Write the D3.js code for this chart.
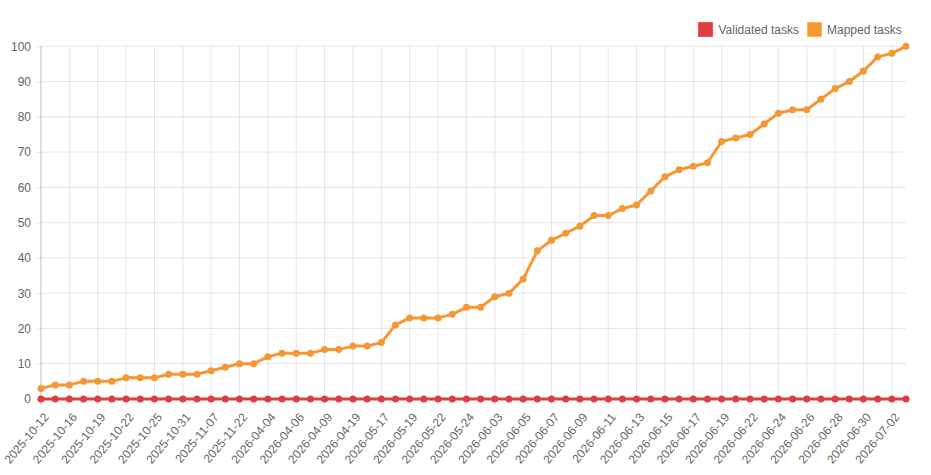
<!DOCTYPE html>
<html>
<head>
<meta charset="utf-8">
<script src="https://cdn.jsdelivr.net/npm/d3@7"></script>
<style>
  html, body { margin: 0; padding: 0; background: #fff; }
  svg { display: block; font-family: "Liberation Sans", Arial, Helvetica, sans-serif; }
</style>
</head>
<body>
<svg id="chart" width="931" height="475"></svg>
<script>
const dates = [
  "2025-10-12","2025-10-14","2025-10-16","2025-10-17","2025-10-19","2025-10-20",
  "2025-10-22","2025-10-23","2025-10-25","2025-10-28","2025-10-31","2025-11-03",
  "2025-11-07","2025-11-15","2025-11-22","2026-02-14","2026-04-04","2026-04-05",
  "2026-04-06","2026-04-08","2026-04-09","2026-04-14","2026-04-19","2026-05-02",
  "2026-05-17","2026-05-18","2026-05-19","2026-05-20","2026-05-22","2026-05-23",
  "2026-05-24","2026-05-28","2026-06-03","2026-06-04","2026-06-05","2026-06-06",
  "2026-06-07","2026-06-08","2026-06-09","2026-06-10","2026-06-11","2026-06-12",
  "2026-06-13","2026-06-14","2026-06-15","2026-06-16","2026-06-17","2026-06-18",
  "2026-06-19","2026-06-20","2026-06-22","2026-06-23","2026-06-24","2026-06-25",
  "2026-06-26","2026-06-27","2026-06-28","2026-06-29","2026-06-30","2026-07-01",
  "2026-07-02","2026-07-03"
];
const validatedTasks = [
  0,0,0,0,0,0,0,0,0,0,0,0,0,0,0,0,0,0,0,0,0,0,0,0,0,0,0,0,0,0,0,
  0,0,0,0,0,0,0,0,0,0,0,0,0,0,0,0,0,0,0,0,0,0,0,0,0,0,0,0,0,0,0
];
const mappedTasks = [
  3,4,4,5,5,5,6,6,6,7,7,7,8,9,10,10,12,13,13,13,14,14,15,15,16,21,23,23,23,24,26,
  26,29,30,34,42,45,47,49,52,52,54,55,59,63,65,66,67,73,74,75,78,81,82,82,85,88,90,93,97,98,100
];
const yTicks = [0,10,20,30,40,50,60,70,80,90,100];
const seriesNames = ["Validated tasks", "Mapped tasks"];
const seriesColors = ["#dc3f42", "#f39835"];

const svg = d3.select("#chart");
const pLeft = 41, pRight = 906, pTop = 46.3, pBottom = 399;

const x = d3.scalePoint().domain(dates).range([pLeft, pRight]);
const y = d3.scaleLinear().domain([0, 100]).range([pBottom, pTop]);

const gridColor = "rgba(0,0,0,0.1)";
const textColor = "#666";

// horizontal grid + y ticks
const yAxis = svg.append("g").attr("transform", `translate(${pLeft},0)`)
  .call(d3.axisLeft(y).tickValues(yTicks).tickSize(5).tickPadding(5));
yAxis.select(".domain").remove();
yAxis.selectAll(".tick line").attr("stroke", gridColor);
yAxis.selectAll(".tick text").attr("fill", textColor).attr("font-size", 12)
  .attr("font-family", "'Liberation Sans', Arial, sans-serif");
svg.append("g").selectAll("line").data(yTicks).join("line")
  .attr("x1", pLeft).attr("x2", pRight)
  .attr("y1", d => y(d)).attr("y2", d => y(d))
  .attr("stroke", gridColor).attr("stroke-width", 1);

// vertical grid + x ticks
const xTickVals = dates.filter((d, i) => i % 2 === 0);
svg.append("g").selectAll("line").data(xTickVals).join("line")
  .attr("x1", d => x(d)).attr("x2", d => x(d))
  .attr("y1", pTop).attr("y2", pBottom + 6)
  .attr("stroke", (d, i) => i === 0 ? "rgba(0,0,0,0.25)" : gridColor).attr("stroke-width", 1);

svg.append("g").selectAll("text").data(xTickVals).join("text")
  .attr("transform", d => `translate(${x(d) + 2},${pBottom + 13}) rotate(-50)`)
  .attr("text-anchor", "end")
  .attr("dy", "0.7em")
  .attr("fill", textColor)
  .attr("font-size", 12)
  .text(d => d);

// series
const seriesData = [validatedTasks, mappedTasks];
const line = d3.line().x((d, i) => x(dates[i])).y(d => y(d));
for (let s = seriesData.length - 1; s >= 0; s--) {
  const g = svg.append("g");
  g.append("path").datum(seriesData[s])
    .attr("d", line).attr("fill", "none")
    .attr("stroke", seriesColors[s]).attr("stroke-width", 3)
    .attr("stroke-linejoin", "round");
  g.selectAll("circle").data(seriesData[s]).join("circle")
    .attr("cx", (d, i) => x(dates[i])).attr("cy", d => y(d))
    .attr("r", 3.5).attr("fill", seriesColors[s]);
}

// legend
const legendItems = [
  { name: seriesNames[0], color: seriesColors[0], bx: 698.5, tx: 718.5 },
  { name: seriesNames[1], color: seriesColors[1], bx: 807.5, tx: 827 }
];
const lg = svg.append("g");
legendItems.forEach(it => {
  lg.append("rect").attr("x", it.bx).attr("y", 22.5).attr("width", 14).attr("height", 14)
    .attr("fill", it.color).attr("stroke", d3.color(it.color).brighter(0.6)).attr("stroke-width", 1);
  lg.append("text").attr("x", it.tx).attr("y", 29.5).attr("dy", "0.35em")
    .attr("fill", textColor).attr("font-size", 12).text(it.name);
});
</script>
</body>
</html>
